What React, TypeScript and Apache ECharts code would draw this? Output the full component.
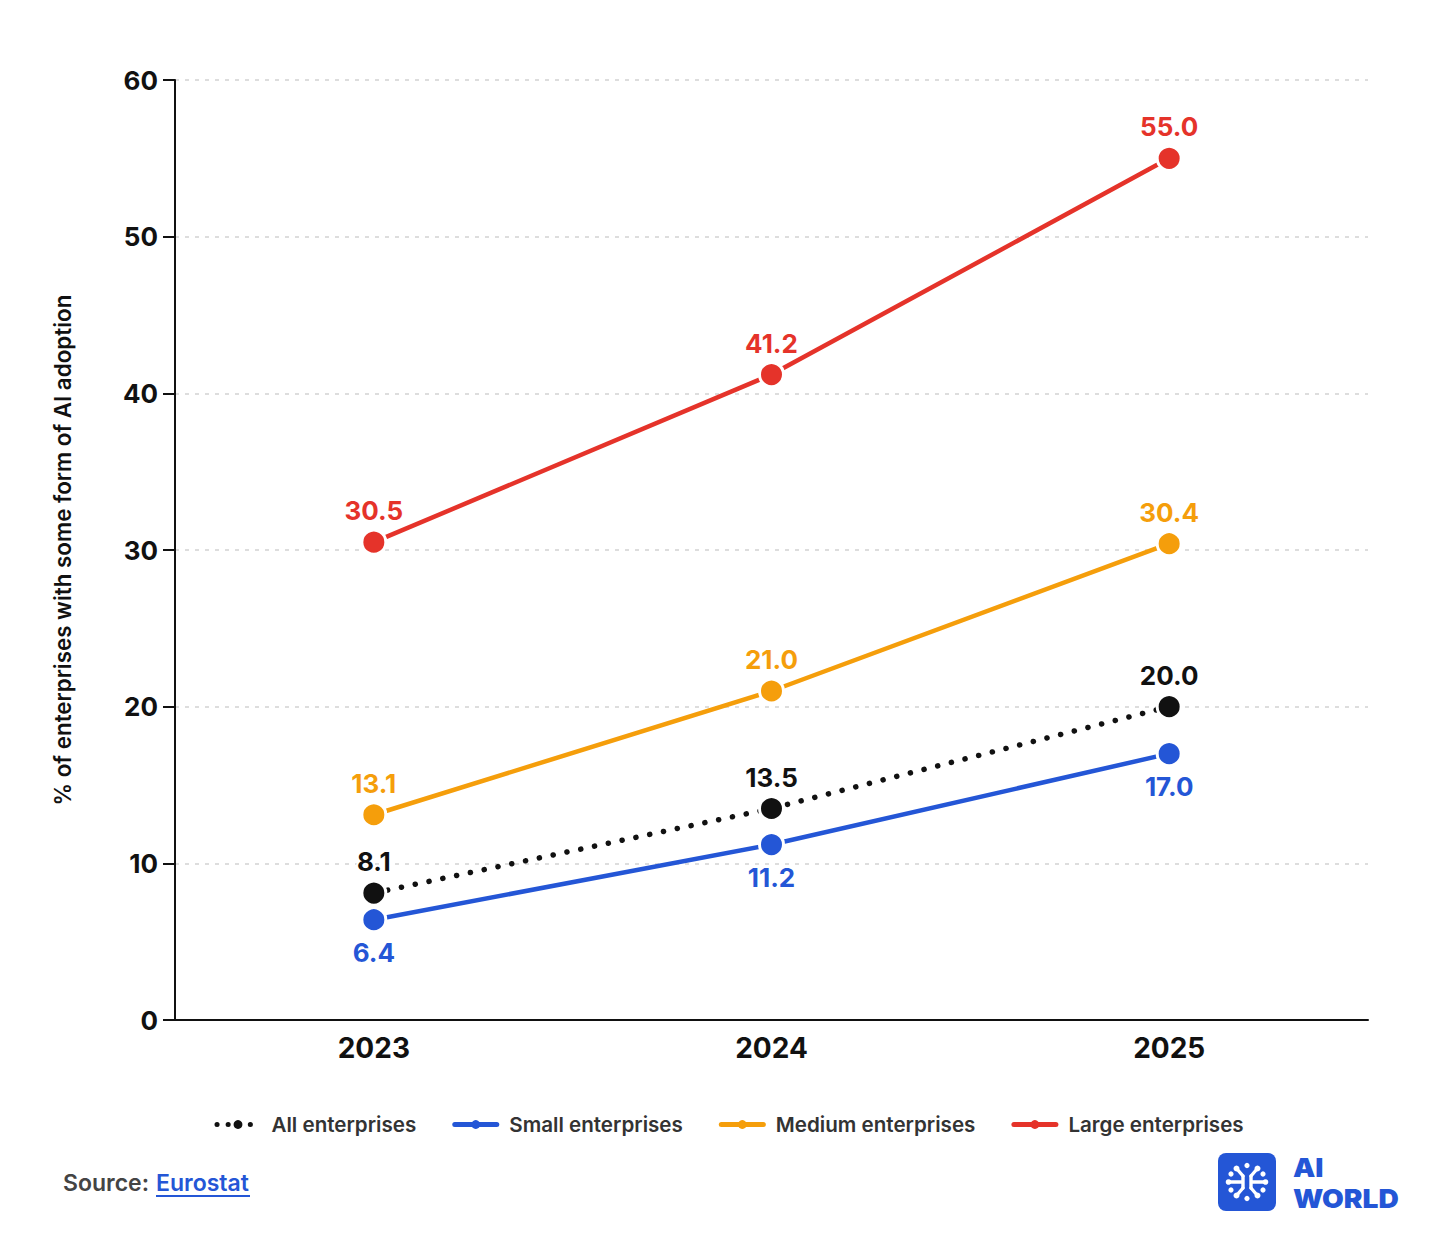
import React, { useEffect, useRef } from "react";
import * as echarts from "echarts";

const years = ["2023", "2024", "2025"];
const allEnterprises = [8.1, 13.5, 20.0];
const smallEnterprises = [6.4, 11.2, 17.0];
const mediumEnterprises = [13.1, 21.0, 30.4];
const largeEnterprises = [30.5, 41.2, 55.0];
const BLACK = "#111111";
const BLUE = "#2456d6";
const ORANGE = "#f59e0b";
const RED = "#e5332a";
const FONT = "Inter";

const logoDots: [number, number, number][] = [
  [1247, 1165.5, 2.6], [1247, 1198.5, 2.6],
  [1236.5, 1168.5, 3], [1257.5, 1168.5, 3],
  [1236.5, 1195.5, 3], [1257.5, 1195.5, 3],
  [1231, 1174, 2.6], [1263, 1174, 2.6],
  [1231, 1190, 2.6], [1263, 1190, 2.6],
  [1228.5, 1182, 2.8], [1265.5, 1182, 2.8],
];
const logoLines: [number, number, number, number][] = [
  [1229, 1182, 1242, 1182], [1252, 1182, 1265, 1182],
  [1237, 1169, 1243, 1176], [1257, 1169, 1251, 1176],
  [1237, 1195, 1243, 1188], [1257, 1195, 1251, 1188],
  [1243, 1176, 1243, 1188], [1251, 1176, 1251, 1188],
];

function lineSeries(name: string, data: number[], color: string, position: string, extra: any = {}) {
  return {
    name,
    type: "line",
    data,
    symbol: "circle",
    symbolSize: 24,
    showAllSymbol: true,
    itemStyle: { color, borderColor: "#ffffff", borderWidth: 3 },
    lineStyle: { color, width: 4.5, cap: "round", ...extra },
    label: {
      show: true,
      position,
      distance: position === "top" ? 5 : 6,
      color,
      fontFamily: FONT,
      fontSize: 26,
      fontWeight: 700,
      formatter: (p: any) => Number(p.value).toFixed(1),
      textBorderColor: "#ffffff",
      textBorderWidth: 4,
    },
    emphasis: { disabled: true },
  };
}

export default function App() {
  const ref = useRef<HTMLDivElement | null>(null);
  useEffect(() => {
    const chart = echarts.init(ref.current!, undefined, { renderer: "svg" });
    const legendItem = (name: string, color: string, dotted = false) => ({
      name,
      itemStyle: { color, borderWidth: 0 },
      lineStyle: dotted
        ? { color, width: 5, type: [0.1, 11], cap: "round" }
        : { color, width: 5, cap: "round" },
    });
    chart.setOption({
      animation: false,
      backgroundColor: "#ffffff",
      grid: { left: 175, right: 66, top: 80, bottom: 226, containLabel: false },
      legend: {
        left: 209.5,
        top: 1109,
        itemWidth: 42,
        itemHeight: 11,
        itemGap: 36,
        textStyle: { fontFamily: FONT, fontSize: 20.6, fontWeight: 600, color: "#333333", padding: [0, 0, 0, 7.5] },
        data: [
          legendItem("All enterprises", BLACK, true),
          legendItem("Small enterprises", BLUE),
          legendItem("Medium enterprises", ORANGE),
          legendItem("Large enterprises", RED),
        ],
      },
      xAxis: {
        type: "category",
        data: years,
        axisLine: { lineStyle: { color: BLACK, width: 2 } },
        axisTick: { alignWithLabel: true, length: 12, lineStyle: { color: BLACK, width: 2 } },
        axisLabel: { margin: 14, color: BLACK, fontFamily: FONT, fontSize: 28, fontWeight: 700 },
      },
      yAxis: {
        type: "value",
        min: 0,
        max: 60,
        interval: 10,
        name: "% of enterprises with some form of AI adoption",
        nameLocation: "middle",
        nameGap: 102,
        nameTextStyle: { color: BLACK, fontFamily: FONT, fontSize: 22.4, fontWeight: 600 },
        axisLine: { show: true, lineStyle: { color: BLACK, width: 2 } },
        axisTick: { show: true, length: 12, lineStyle: { color: BLACK, width: 2 } },
        axisLabel: { margin: 17, color: BLACK, fontFamily: FONT, fontSize: 26, fontWeight: 700 },
        splitLine: { show: true, lineStyle: { color: "#dddddd", width: 2, type: [4, 6] } },
      },
      series: [
        lineSeries("All enterprises", allEnterprises, BLACK, "top", { type: [0.1, 14], width: 5.5 }),
        lineSeries("Small enterprises", smallEnterprises, BLUE, "bottom"),
        lineSeries("Medium enterprises", mediumEnterprises, ORANGE, "top"),
        lineSeries("Large enterprises", largeEnterprises, RED, "top"),
      ],
      graphic: [
        { type: "text", x: 63, y: 1171, style: { text: "Source:", font: `600 23px ${FONT}`, fill: "#444444" } },
        { type: "text", x: 156, y: 1171, style: { text: "Eurostat", font: `600 23px ${FONT}`, fill: BLUE } },
        { type: "line", shape: { x1: 156, y1: 1196, x2: 250, y2: 1196 }, style: { stroke: BLUE, lineWidth: 2 } },
        { type: "rect", shape: { x: 1218, y: 1153, width: 58, height: 58, r: 8 }, style: { fill: BLUE } },
        ...logoLines.map(([x1, y1, x2, y2]) => ({
          type: "line", shape: { x1, y1, x2, y2 }, style: { stroke: "#ffffff", lineWidth: 3.4, lineCap: "round" },
        })),
        ...logoDots.map(([cx, cy, r]) => ({ type: "circle", shape: { cx, cy, r }, style: { fill: "#ffffff" } })),
        { type: "text", x: 1293, y: 1152, scaleX: 1.08, style: { text: "AI\nWORLD", font: `900 26px ${FONT}`, lineHeight: 31.5, fill: BLUE } },
      ],
    });
    return () => chart.dispose();
  }, []);
  return <div ref={ref} style={{ position: "absolute", left: 0, top: 0, width: 1434, height: 1246 }} />;
}
